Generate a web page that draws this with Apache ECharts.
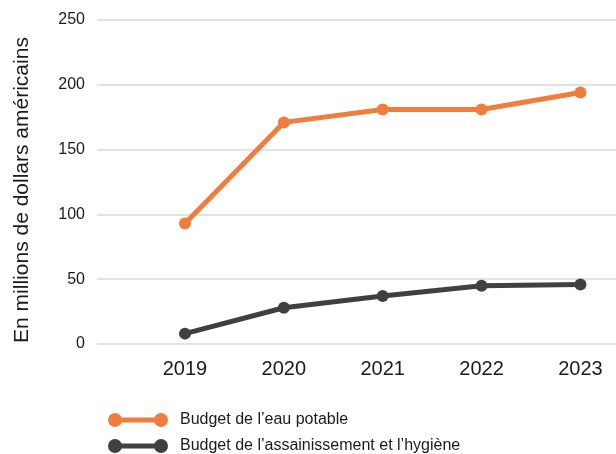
<!DOCTYPE html>
<html>
<head>
<meta charset="utf-8">
<script src="https://cdn.jsdelivr.net/npm/echarts@6/dist/echarts.min.js"></script>
<style>
  html, body { margin: 0; padding: 0; background: #fff; }
  #main { width: 616px; height: 454px; }
</style>
</head>
<body>
<div id="main"></div>
<script>
  // données
  var years = [2019, 2020, 2021, 2022, 2023];
  var eauPotable = [93, 171, 181, 181, 194];
  var assainissement = [8, 28, 37, 45, 46];
  var yTicks = [0, 50, 100, 150, 200, 250];
  var seriesNames = ['Budget de l’eau potable', 'Budget de l’assainissement et l’hygiène'];

  var orange = '#EF7D3D';
  var dark = '#404040';

  // icône de légende : trait avec un rond à chaque bout
  var legendIcon = 'path://M0,7 A7,7 0 1,1 14,7 A7,7 0 1,1 0,7 Z M7,4.5 L53,4.5 L53,9.5 L7,9.5 Z M46,7 A7,7 0 1,1 60,7 A7,7 0 1,1 46,7 Z';

  function pairs(vals) {
    return years.map(function (y, i) { return [y, vals[i]]; });
  }

  function legendFor(name, top) {
    return {
      left: 103,
      top: top,
      itemWidth: 60,
      itemHeight: 14,
      textStyle: { fontSize: 16, color: '#1a1a1a', padding: [0, 0, 0, 7] },
      data: [{ name: name, icon: legendIcon }]
    };
  }

  var chart = echarts.init(document.getElementById('main'));
  chart.setOption({
    animation: false,
    textStyle: { fontFamily: 'Liberation Sans, Arial, sans-serif' },
    grid: { left: 97, right: 0, top: 20, bottom: 110 },
    xAxis: {
      type: 'value',
      min: 2018.11,
      max: 2023.36,
      splitLine: { show: false },
      axisLine: { show: false },
      axisTick: { show: false },
      axisLabel: {
        customValues: years,
        formatter: function (v) { return String(v); },
        fontSize: 20,
        color: '#1a1a1a',
        margin: 15
      }
    },
    yAxis: {
      type: 'value',
      min: yTicks[0],
      max: yTicks[yTicks.length - 1],
      interval: 50,
      name: 'En millions de dollars américains',
      nameLocation: 'middle',
      nameGap: 64,
      nameTextStyle: { fontSize: 21, color: '#1a1a1a', padding: [0, 16, 0, 0] },
      axisLine: { show: false },
      axisTick: { show: false },
      axisLabel: { fontSize: 16, color: '#1a1a1a', margin: 12 },
      splitLine: { lineStyle: { color: '#d9d9d9', width: 1.5 } }
    },
    legend: [
      legendFor(seriesNames[0], 407),
      legendFor(seriesNames[1], 433)
    ],
    series: [
      {
        name: seriesNames[0],
        type: 'line',
        data: pairs(eauPotable),
        symbol: 'circle',
        symbolSize: 12,
        lineStyle: { color: orange, width: 5 },
        itemStyle: { color: orange }
      },
      {
        name: seriesNames[1],
        type: 'line',
        data: pairs(assainissement),
        symbol: 'circle',
        symbolSize: 12,
        lineStyle: { color: dark, width: 5 },
        itemStyle: { color: dark }
      }
    ]
  });
</script>
</body>
</html>
